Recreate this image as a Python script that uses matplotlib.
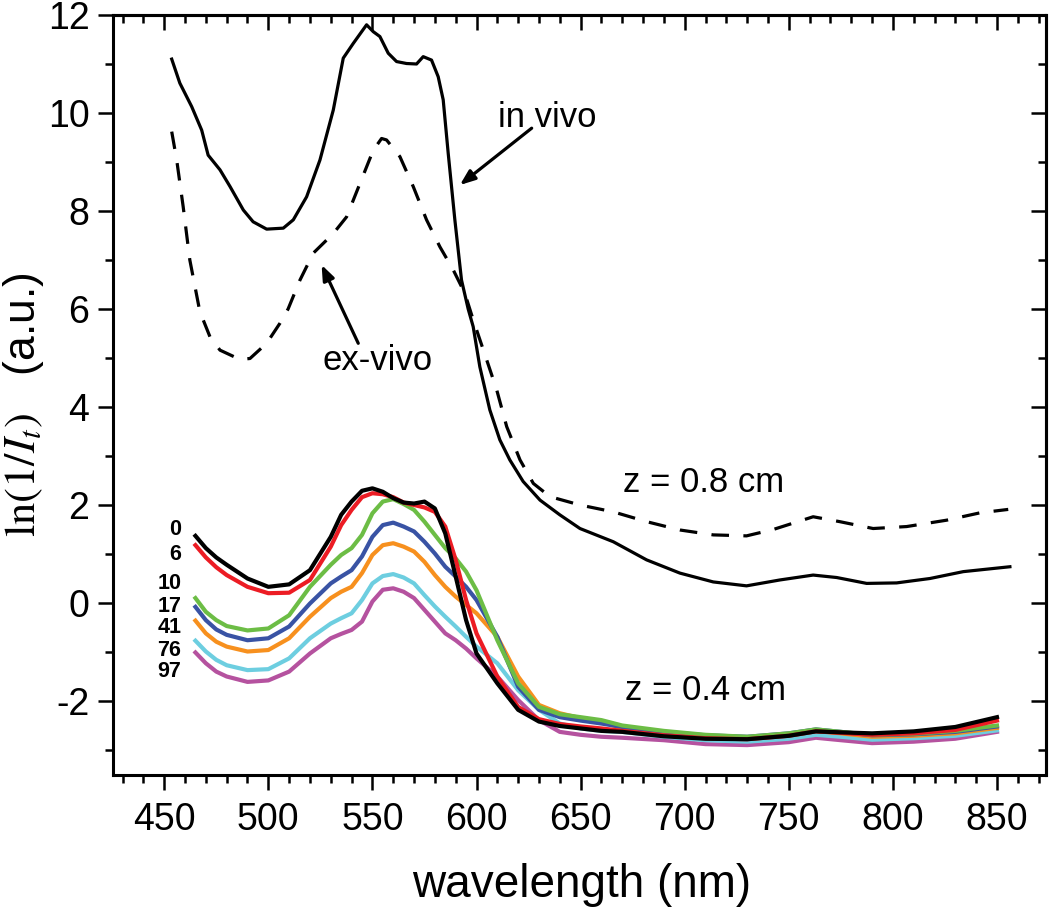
import matplotlib.pyplot as plt
from matplotlib.ticker import MultipleLocator, NullFormatter

plt.rcParams['font.family'] = ['Liberation Sans', 'DejaVu Sans']
plt.rcParams['axes.unicode_minus'] = False
plt.rcParams['mathtext.fontset'] = 'stix'

# z = 0.8 cm spectra
vivo_wl = [453.6, 457.5, 463.2, 468, 471.1, 476.8, 481.6, 488, 492.7, 499.2, 507.2, 512,
           518.4, 524.8, 531.2, 536, 540.8, 547.2, 550.4, 553.6, 557.6, 561.6, 566.4,
           571.2, 574.4, 578.4, 581.6, 584, 586.4, 589.6, 592.8, 596, 598.4, 601.6,
           606.4, 611.2, 616, 622.4, 630.5, 640, 649.7, 665.7, 681.7, 697.7, 713.7,
           729.7, 745.7, 761.7, 773, 787.4, 801.8, 817.8, 833.8, 856.2]
vivo_val = [11.10, 10.61, 10.13, 9.65, 9.14, 8.84, 8.50, 8.02, 7.78, 7.63, 7.65, 7.82,
            8.29, 9.04, 10.06, 11.12, 11.42, 11.80, 11.66, 11.56, 11.22, 11.05, 11.01,
            11.00, 11.15, 11.08, 10.74, 10.27, 9.18, 7.82, 6.59, 6.00, 5.64, 4.82,
            3.94, 3.33, 2.92, 2.48, 2.10, 1.80, 1.52, 1.25, 0.88, 0.61, 0.43,
            0.35, 0.47, 0.57, 0.52, 0.40, 0.41, 0.50, 0.64, 0.74]

exvivo_wl = [453.6, 456, 459.1, 462.3, 467.1, 472, 476.8, 486.4, 491.2, 499.2, 505.6,
             509.5, 515.2, 521.6, 526.4, 531.2, 537.6, 544, 550.4, 554.4, 556.8, 563.2,
             569.6, 576, 582.4, 588.8, 594.4, 598.4, 604.9, 609.7, 614.5, 620.9, 627.3,
             635.3, 649.7, 665.7, 681.7, 697.7, 713.7, 729.7, 742.5, 761.7, 774.5,
             790.5, 806.6, 825.8, 841.8, 855.4]
exvivo_val = [9.62, 9.04, 8.09, 7.00, 5.95, 5.43, 5.16, 4.97, 4.99, 5.30, 5.71,
              6.00, 6.59, 7.14, 7.34, 7.54, 7.88, 8.56, 9.24, 9.48, 9.45, 9.11,
              8.50, 7.82, 7.27, 6.80, 6.32, 5.78, 4.96, 4.35, 3.60, 2.92, 2.44,
              2.17, 2.00, 1.86, 1.66, 1.49, 1.39, 1.37, 1.50, 1.76, 1.66,
              1.52, 1.56, 1.69, 1.84, 1.91]

# z = 0.4 cm spectra, one per sample
wl = [465, 470, 475, 480, 490, 500, 510, 520, 530, 535, 540, 545, 550, 555, 560, 565, 570,
      575, 580, 585, 590, 595, 600, 610, 620, 630, 640, 650, 660, 670, 690, 710, 730, 750,
      763, 775, 790, 810, 830, 850]
s0 = [1.37, 1.12, 0.93, 0.78, 0.50, 0.33, 0.38, 0.67, 1.35, 1.80, 2.07, 2.29, 2.34, 2.27,
      2.14, 2.05, 2.03, 2.07, 1.93, 1.42, 0.54, -0.35, -1.03, -1.64, -2.18, -2.42, -2.51,
      -2.56, -2.61, -2.63, -2.72, -2.77, -2.78, -2.71, -2.62, -2.64, -2.66, -2.62, -2.53,
      -2.33]
s6 = [1.18, 0.93, 0.73, 0.57, 0.33, 0.20, 0.21, 0.47, 1.15, 1.59, 1.90, 2.16, 2.24, 2.22,
      2.16, 2.05, 2.00, 1.95, 1.86, 1.56, 0.88, 0.06, -0.62, -1.50, -2.12, -2.37, -2.47,
      -2.52, -2.56, -2.61, -2.70, -2.76, -2.78, -2.71, -2.62, -2.65, -2.69, -2.66, -2.59,
      -2.40]
s10 = [0.10, -0.18, -0.35, -0.47, -0.56, -0.52, -0.25, 0.33, 0.78, 0.98, 1.12, 1.39, 1.83,
       2.07, 2.12, 2.02, 1.90, 1.66, 1.39, 1.12, 0.91, 0.64, 0.26, -0.76, -1.64, -2.12,
       -2.27, -2.33, -2.39, -2.50, -2.61, -2.69, -2.73, -2.66, -2.58, -2.63, -2.69, -2.67,
       -2.61, -2.50]
s17 = [-0.08, -0.35, -0.54, -0.65, -0.76, -0.72, -0.48, -0.01, 0.40, 0.54, 0.67, 0.95, 1.35,
       1.59, 1.64, 1.56, 1.46, 1.25, 1.01, 0.74, 0.54, 0.33, 0.06, -0.69, -1.71, -2.18,
       -2.33, -2.40, -2.46, -2.53, -2.63, -2.70, -2.73, -2.66, -2.58, -2.63, -2.70, -2.68,
       -2.63, -2.52]
s41 = [-0.36, -0.62, -0.79, -0.89, -0.99, -0.96, -0.72, -0.28, 0.10, 0.23, 0.33, 0.61, 0.98,
       1.18, 1.22, 1.15, 1.05, 0.84, 0.57, 0.33, 0.13, -0.04, -0.21, -0.69, -1.50, -2.08,
       -2.25, -2.35, -2.42, -2.56, -2.66, -2.73, -2.76, -2.69, -2.61, -2.66, -2.73, -2.71,
       -2.66, -2.55]
s76 = [-0.77, -0.99, -1.16, -1.27, -1.37, -1.35, -1.13, -0.72, -0.42, -0.31, -0.21, 0.06,
       0.40, 0.55, 0.59, 0.52, 0.40, 0.16, -0.07, -0.28, -0.48, -0.69, -0.89, -1.23, -1.78,
       -2.18, -2.46, -2.56, -2.61, -2.63, -2.73, -2.80, -2.83, -2.77, -2.69, -2.73, -2.79,
       -2.76, -2.71, -2.60]
s97 = [-1.01, -1.23, -1.40, -1.50, -1.61, -1.58, -1.40, -1.03, -0.72, -0.63, -0.55, -0.38,
       0.03, 0.27, 0.30, 0.23, 0.10, -0.14, -0.38, -0.62, -0.76, -0.93, -1.13, -1.50, -1.98,
       -2.39, -2.63, -2.69, -2.73, -2.75, -2.80, -2.88, -2.90, -2.84, -2.75, -2.80, -2.86,
       -2.83, -2.77, -2.63]

sample_labels = ["0", "6", "10", "17", "41", "76", "97"]
sample_label_y = [1.49, 0.98, 0.40, -0.08, -0.50, -0.96, -1.40]
sample_colors = ["#000000", "#ec1c24", "#6cbd45", "#3953a4", "#f7901e", "#6dcee0", "#b5529f"]

fig = plt.figure(figsize=(10.5, 9.15), dpi=100)
ax = fig.add_axes([113 / 1050, 1 - 774.5 / 915, (1045.5 - 113) / 1050, (774.5 - 15) / 915])

series = [s0, s6, s10, s17, s41, s76, s97]
# draw back-to-front so black sits on top like the original
for vals, c in zip(series[::-1], sample_colors[::-1]):
    ax.plot(wl, vals, color=c, lw=3.0, solid_joinstyle='round')

ax.plot(vivo_wl, vivo_val, color='black', lw=2.3)
ax.plot(exvivo_wl, exvivo_val, color='black', lw=2.3, dashes=(5.5, 4.5))

for lab, yy in zip(sample_labels, sample_label_y):
    ax.text(458.3, yy, lab, ha='right', va='center', fontsize=15.5, fontweight='bold')

ax.text(610.3, 9.71, "in vivo", fontsize=25, ha='left', va='baseline')
ax.annotate("", xy=(592.0, 8.53), xytext=(626.5, 9.69),
            arrowprops=dict(arrowstyle="-|>,head_length=0.9,head_width=0.35",
                            lw=2.3, color='black', shrinkA=0, shrinkB=0))
ax.text(526.2, 4.76, "ex-vivo", fontsize=25, ha='left', va='baseline')
ax.annotate("", xy=(525.6, 6.90), xytext=(543.2, 5.30),
            arrowprops=dict(arrowstyle="-|>,head_length=0.9,head_width=0.35",
                            lw=2.3, color='black', shrinkA=0, shrinkB=0))
ax.text(670.3, 2.27, "z = 0.8 cm", fontsize=25, ha='left', va='baseline')
ax.text(671.3, -1.98, "z = 0.4 cm", fontsize=25, ha='left', va='baseline')

ax.set_xlim(425.4, 873.3)
ax.set_ylim(-3.5, 12)
ax.xaxis.set_major_locator(MultipleLocator(50))
ax.xaxis.set_minor_locator(MultipleLocator(10))
ax.yaxis.set_major_locator(MultipleLocator(2))
ax.yaxis.set_minor_locator(MultipleLocator(1))

for sp in ax.spines.values():
    sp.set_linewidth(2.2)
ax.tick_params(which='both', direction='out', width=1.8, labelsize=27)
ax.tick_params(which='major', length=11)
ax.tick_params(which='minor', length=6)
ax.tick_params(axis='x', pad=9)
ax.tick_params(axis='y', pad=6)

# top and right: inward ticks, no labels
top = ax.secondary_xaxis('top')
top.xaxis.set_major_locator(MultipleLocator(50))
top.xaxis.set_minor_locator(MultipleLocator(10))
top.tick_params(which='both', direction='in', width=1.8, labeltop=False)
top.tick_params(which='major', length=11)
top.tick_params(which='minor', length=6)
top.xaxis.set_major_formatter(NullFormatter())
top.spines['top'].set_linewidth(2.2)
right = ax.secondary_yaxis('right')
right.yaxis.set_major_locator(MultipleLocator(2))
right.yaxis.set_minor_locator(MultipleLocator(1))
right.tick_params(which='both', direction='in', width=1.8, labelright=False)
right.tick_params(which='major', length=11)
right.tick_params(which='minor', length=6)
right.yaxis.set_major_formatter(NullFormatter())
right.spines['right'].set_linewidth(2.2)

fig.text(582 / 1050, 1 - 885 / 915, "wavelength (nm)", fontsize=33, ha='center', va='center')
fig.text(24 / 1050, 1 - 405 / 915, r"$\mathrm{ln}(1/I_t)$   (a.u.)", fontsize=32,
         rotation=90, ha='center', va='center')

fig.savefig("out.png", dpi=100)
